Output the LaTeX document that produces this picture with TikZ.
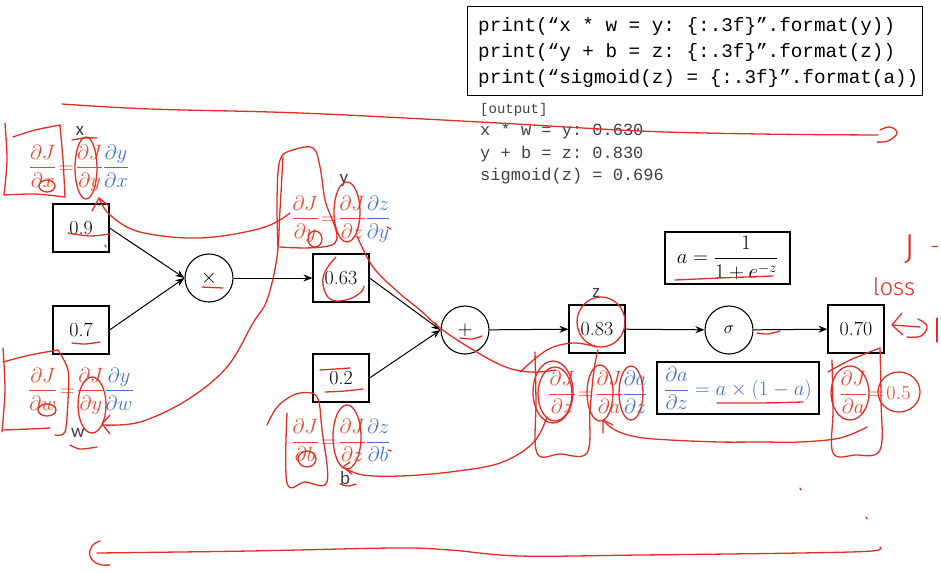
\documentclass[tikz,border=0pt]{standalone}
\usepackage{amsmath}
\usepackage{fontspec}
\newfontfamily\codefont{Liberation Mono}
\newfontfamily\labfont{Carlito}
\newfontfamily\handfont{Fira Sans Light}
\usetikzlibrary{arrows.meta,calc}
\definecolor{inkred}{RGB}{226,45,36}
\definecolor{fred}{RGB}{230,70,45}
\definecolor{fblue}{RGB}{68,114,196}
\definecolor{txtgray}{RGB}{64,64,64}
\frenchspacing
\tikzset{
  valbox/.style={draw, line width=1.1pt, minimum width=56pt, minimum height=48pt, inner sep=0pt, font=\fontsize{20}{24}\selectfont},
  opnode/.style={draw, circle, line width=1.1pt, minimum size=48pt, inner sep=0pt, font=\fontsize{22}{26}\selectfont},
  flow/.style={-{Stealth[length=9pt,width=7pt]}, line width=1pt},
  varlab/.style={font=\labfont\fontsize{19}{22}\selectfont, text=txtgray, inner sep=0pt},
  formula/.style={inner sep=0pt, font=\fontsize{20}{24}\selectfont},
  fbox/.style={draw, line width=1.1pt, inner sep=0pt, font=\fontsize{20}{24}\selectfont},
  codeline/.style={anchor=base west, inner sep=0pt, font=\codefont\fontsize{19.3}{22}\selectfont},
  outline/.style={anchor=base west, inner sep=0pt, text=txtgray, font=\codefont\fontsize{17}{20}\selectfont},
  ink/.style={draw=inkred, line width=1.3pt, line cap=round, line join=round},
  hand/.style={text=inkred, inner sep=0pt, font=\handfont\fontsize{24}{28}\selectfont}
}
\begin{document}
\begin{tikzpicture}[x=1pt,y=-1pt]
\useasboundingbox (0,0) rectangle (941,573);

% ---------- code box ----------
\node[draw, line width=1.2pt, minimum width=455pt, minimum height=89pt, anchor=north west, inner sep=0pt] (code) at (467,6) {};
\node[codeline] (c1) at (478,31) {print(“x * w = y: \{:.3f\}”.format(y))};
\node[codeline] (c2) at (478,57) {print(“y + b = z: \{:.3f\}”.format(z))};
\node[codeline] (c3) at (478,83) {print(“sigmoid(z) = \{:.3f\}”.format(a))};
\node[outline, font=\codefont\fontsize{14}{16}\selectfont] (o0) at (480,113) {[output]};
\node[outline] (o1) at (480,135) {x * w = y: 0.630};
\node[outline] (o2) at (480,158) {y + b = z: 0.830};
\node[outline] (o3) at (480,180) {sigmoid(z) = 0.696};

% ---------- graph ----------
\node[valbox] (x) at (81,228) {0.9};
\node[valbox] (w) at (81,330) {0.7};
\node[opnode] (mul) at (209,278) {$\times$};
\node[valbox] (y) at (341,278) {0.63};
\node[valbox] (b) at (341,378) {0.2};
\node[opnode] (add) at (465,330) {$+$};
\node[valbox] (z) at (597,329) {0.83};
\node[opnode, font=\fontsize{19}{22}\selectfont] (sig) at (729,330) {$\sigma$};
\node[valbox] (a) at (856,329) {0.70};

\draw[flow] (x.east) -- (mul.west);
\draw[flow] (w.east) -- (mul.west);
\draw[flow] (mul) -- (y);
\draw[flow] (y.east) -- (add.west);
\draw[flow] (b.east) -- (add.west);
\draw[flow] (add) -- (z);
\draw[flow] (z) -- (sig);
\draw[flow] (sig) -- (a);

% variable labels
\node[varlab] (lx) at (80,131) {x};
\node[varlab] (lw) at (78,433) {w};
\node[varlab] (ly) at (344,180) {y};
\node[varlab] (lb) at (345,478) {b};
\node[varlab] (lz) at (596,293) {z};

% formulas
\node[formula] (fx) at (79,168) {$\displaystyle{\color{fred}\frac{\partial J}{\partial x}\!=\!\frac{\partial J}{\partial y}}{\color{fblue}\frac{\partial y}{\partial x}}$};
\node[formula] (fw) at (81,391) {$\displaystyle{\color{fred}\frac{\partial J}{\partial w}\!=\!\frac{\partial J}{\partial y}}{\color{fblue}\frac{\partial y}{\partial w}}$};
\node[formula] (fy) at (341,219) {$\displaystyle{\color{fred}\frac{\partial J}{\partial y}\!=\!\frac{\partial J}{\partial z}}{\color{fblue}\frac{\partial z}{\partial y}}$};
\node[formula] (fb) at (341,440) {$\displaystyle{\color{fred}\frac{\partial J}{\partial b}\!=\!\frac{\partial J}{\partial z}}{\color{fblue}\frac{\partial z}{\partial b}}$};
\node[formula] (fz) at (598,392) {$\displaystyle{\color{fred}\frac{\partial J}{\partial z}\!=\!\frac{\partial J}{\partial a}}{\color{fblue}\frac{\partial a}{\partial z}}$};
\node[formula] (fa) at (875,392) {$\displaystyle{\color{fred}\frac{\partial J}{\partial a}\!=\!\mathrm{0.5}}$};

\node[fbox, minimum width=162pt, minimum height=52pt] (dadz) at (738,388) {$\displaystyle\color{fblue}\frac{\partial a}{\partial z}=a\times(1-a)$};
\node[fbox, minimum width=125pt, minimum height=52pt, font=\fontsize{20}{24}\selectfont] (sigf) at (727.5,258) {$\displaystyle a=\frac{1}{1+e^{-z}}$};

% ---------- hand-drawn annotations ----------
% long forward arrow (top)
\draw[ink] plot[smooth, tension=0.6] coordinates {(62,104) (150,109) (300,113) (480,122) (640,131) (760,134) (878,135)};
\draw[ink] plot[smooth, tension=0.7] coordinates {(880,130) (890,127) (897,133) (888,141) (877,142)};
% long backward arrow (bottom)
\draw[ink] plot[smooth, tension=0.6] coordinates {(97,553) (250,551) (395,548) (450,550) (520,556) (640,555) (800,553) (872,551) (880,547)};
\draw[ink] plot[smooth, tension=0.7] coordinates {(100,541) (92,546) (90,556) (98,564) (110,565)};

% J - loss
\node[hand, font=\handfont\fontsize{36}{40}\selectfont] (jt) at (910,249) {J};
\node[hand] (jd) at (935,250) {-};
\node[hand] (loss) at (894,287) {loss};
\draw[ink] (902,313) -- (892,325) -- (903,335);
\draw[ink] (892,325) -- (920,327);
\draw[ink] plot[smooth, tension=0.7] coordinates {(918,319) (927,326) (921,336) (907,337)};
\draw[ink] (937,318) -- (937,342);

% x formula marks
\draw[ink] plot[smooth] coordinates {(5,123) (7,160) (4,195)};
\draw[ink] plot[smooth] coordinates {(4,195) (35,194) (65,197)};
\draw[ink] plot[smooth] coordinates {(13,137) (35,130) (60,125)};
\draw[ink] plot[smooth] coordinates {(60,125) (63,160) (65,197)};
\draw[ink] (47,186) ellipse [x radius=8, y radius=6];
\draw[ink] (86,168) ellipse [x radius=11, y radius=31];
\draw[ink] plot[smooth] coordinates {(72,140) (85,138) (97,138)};
\draw[ink] plot[smooth] coordinates {(68,233) (90,236) (110,234)};
\draw[ink] (105,245) -- (106,247);
% y formula outline and curve back to x formula
\draw[ink] plot[smooth, tension=0.6] coordinates {(278,248) (277,200) (280,160) (293,150) (313,148) (320,167) (325,200) (335,243) (280,247)};
\draw[ink] plot[smooth, tension=0.6] coordinates {(290,213) (262,228) (200,238) (140,232) (110,215) (99,198)};
\draw[ink] (92,211) -- (99,198) -- (109,206);
\draw[ink] (347,212) ellipse [x radius=13, y radius=30];
\draw[ink] (315,239) ellipse [x radius=7, y radius=8];
\draw[ink] (387,227) -- (391,229);
% curve from y formula down to w formula
\draw[ink] plot[smooth, tension=0.6] coordinates {(283,157) (280,210) (277,257) (267,300) (253,323) (227,367) (187,400) (140,422) (103,425)};
\draw[ink] (110,415) -- (102,424) -- (110,434);
% w formula marks
\draw[ink] plot[smooth] coordinates {(3,348) (5,390) (2,432)};
\draw[ink] plot[smooth] coordinates {(3,362) (30,355) (58,350)};
\draw[ink] plot[smooth] coordinates {(58,350) (68,370) (68,400) (65,432) (55,435)};
\draw[ink] plot[smooth] coordinates {(3,430) (30,429) (50,428)};
\draw[ink] (47,410) ellipse [x radius=9, y radius=6];
\draw[ink] (92,405) ellipse [x radius=14, y radius=28];
\draw[ink] plot[smooth] coordinates {(72,343) (85,344) (100,342)};
\draw[ink] plot[smooth] coordinates {(70,445) (80,449) (97,447)};
% 0.63, multiplication, plus
\draw[ink] plot[smooth, tension=0.7] coordinates {(336,257) (326,270) (323,284) (330,299) (346,300) (360,293) (364,286)};
\draw[ink] (202,287) -- (223,288);
\draw[ink] plot[smooth] coordinates {(460,338) (472,339) (482,336)};
% y formula -> + -> z formula
\draw[ink] plot[smooth, tension=0.6] coordinates {(357,236) (373,267) (398,292) (420,310) (440,328) (470,348) (503,366) (530,372) (556,370)};
% 0.2 and b formula
\draw[ink] plot[smooth] coordinates {(320,370) (335,369) (350,368)};
\draw[ink] plot[smooth] coordinates {(325,392) (345,391) (363,389)};
\draw[ink] plot[smooth, tension=0.6] coordinates {(267,425) (275,410) (285,400) (300,393) (317,397) (322,430) (327,482) (305,482) (287,483) (287,413)};
\draw[ink] (307,459) ellipse [x radius=9, y radius=8];
\draw[ink] (347,437) ellipse [x radius=14, y radius=32];
\draw[ink] plot[smooth] coordinates {(340,484) (348,486) (356,484)};
\draw[ink] plot[smooth, tension=0.6] coordinates {(547,417) (533,443) (500,463) (450,472) (400,476) (363,475) (345,468)};
\draw[ink] (350,462) -- (343,467) -- (352,474);
\draw[ink] (388,450) -- (391,451);
% z formula marks
\draw[ink] (601,322) ellipse [x radius=24, y radius=25];
\draw[ink] (553,392) ellipse [x radius=20, y radius=31];
\draw[ink] (555,394) ellipse [x radius=17, y radius=27];
\draw[ink] plot[smooth, tension=0.6] coordinates {(535,352) (536,400) (537,453) (560,454) (587,453) (590,410) (594,370) (598,350)};
\draw[ink] plot[smooth, tension=0.6] coordinates {(520,372) (547,350) (573,343) (597,347)};
\draw[ink] (600,393) ellipse [x radius=13, y radius=28];
\draw[ink] (631,393) ellipse [x radius=12, y radius=27];
\draw[ink] plot[smooth, tension=0.6] coordinates {(867,427) (840,438) (800,442) (760,442) (720,442) (670,440) (637,437) (615,430) (603,420)};
\draw[ink] (603,433) -- (603,420) -- (613,425);
% formula box underlines, sigma
\draw[ink] plot[smooth] coordinates {(675,280) (720,278) (773,276)};
\draw[ink] plot[smooth] coordinates {(717,403) (760,403) (803,402)};
\draw[ink] plot[smooth] coordinates {(757,333) (768,334) (780,331)};
% dJ/da marks
\draw[ink] plot[smooth, tension=0.6] coordinates {(832,360) (833,410) (833,453) (855,455) (880,450) (881,400) (880,348)};
\draw[ink] plot[smooth] coordinates {(828,372) (850,360) (880,348)};
\draw[ink] (850,393) ellipse [x radius=19, y radius=27];
\draw[ink] (899,392) ellipse [x radius=21, y radius=20];
\draw[ink] (800,488) -- (801,490);
\draw[ink] (866,517) -- (867,519);
\end{tikzpicture}
\end{document}
